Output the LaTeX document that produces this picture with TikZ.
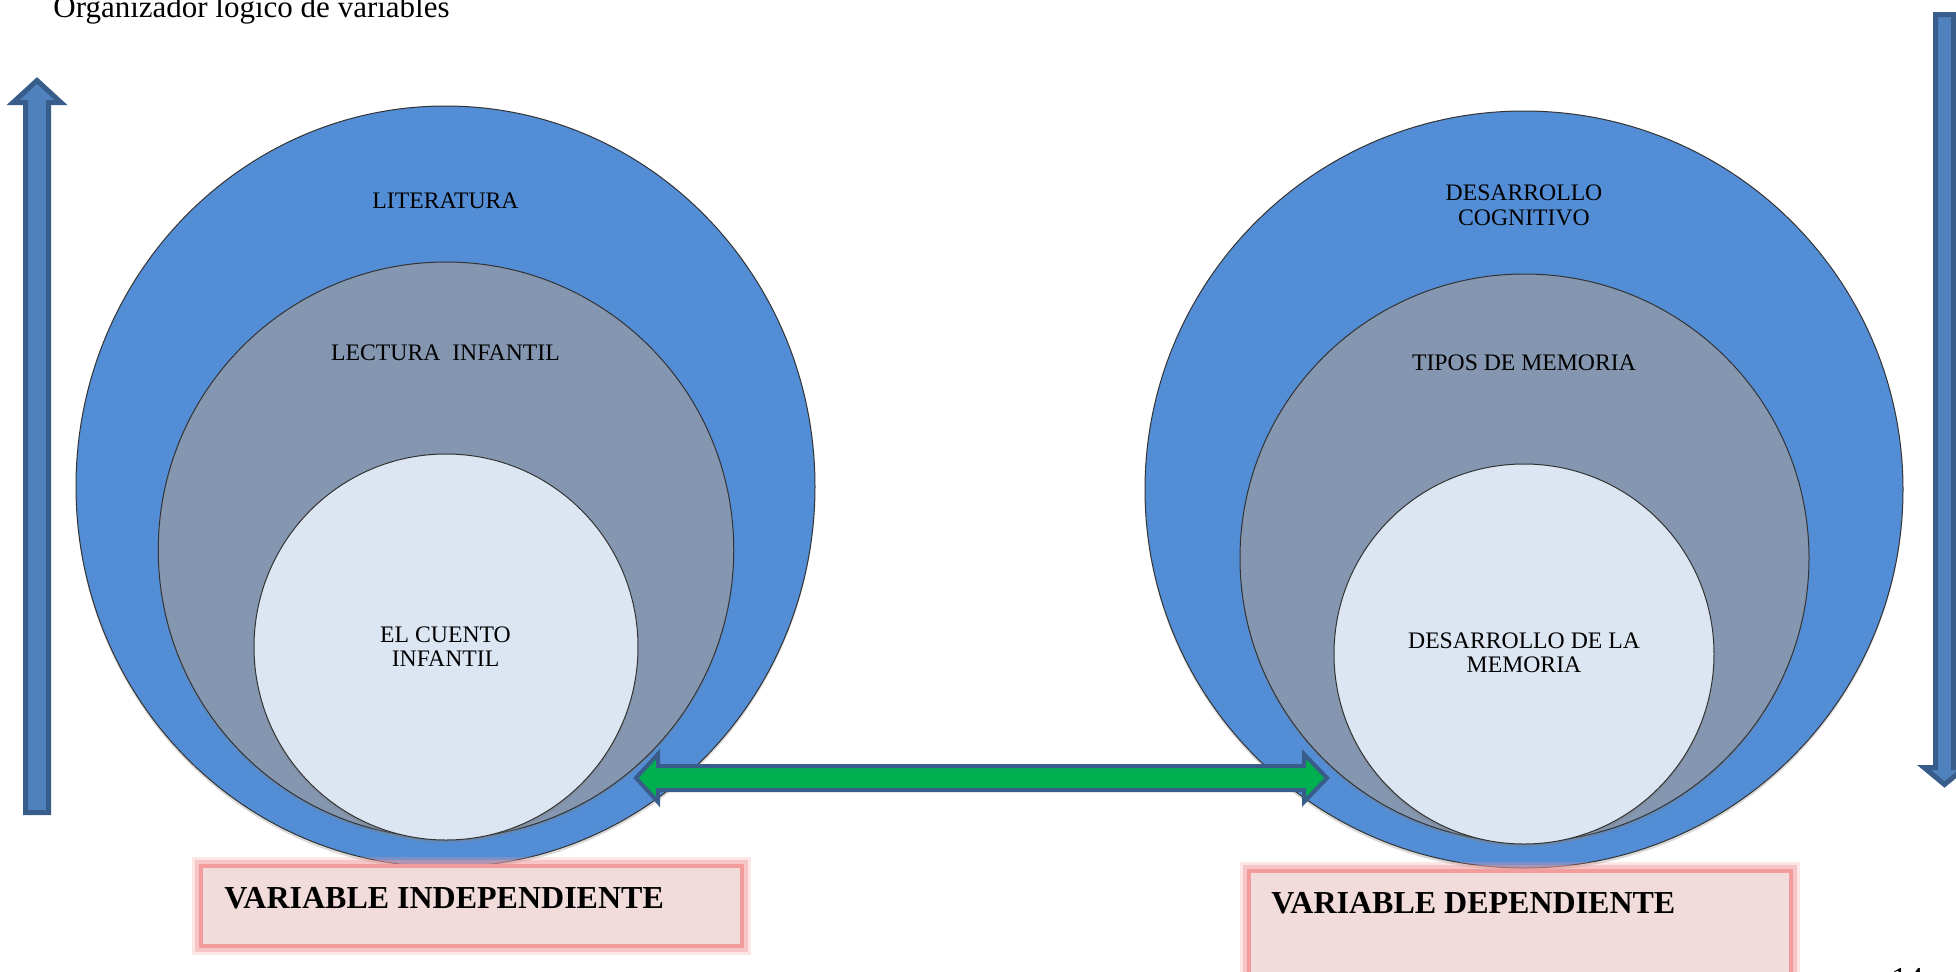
\documentclass[tikz,border=0pt]{standalone}
\usepackage{fontspec}
\setmainfont{Liberation Serif}
\usetikzlibrary{shapes.geometric,shadows,calc}
\definecolor{bigblue}{HTML}{538DD5}
\definecolor{midgray}{HTML}{8496B0}
\definecolor{paleblue}{HTML}{DCE6F2}
\definecolor{arrowfill}{HTML}{4F81BD}
\definecolor{arrowline}{HTML}{385D8A}
\definecolor{dblgreen}{HTML}{00B050}
\definecolor{boxfill}{HTML}{F2DCDB}
\definecolor{glowpink}{HTML}{F29C9C}
\begin{document}
\begin{tikzpicture}[x=0.5pt,y=-0.5pt,
  ring/.style={ellipse, draw=black!80, line width=0.5pt, inner sep=0pt,
    drop shadow={shadow xshift=0pt, shadow yshift=-1.5pt, opacity=0.3}},
  lbl/.style={font=\fontsize{11.85}{12.25}\selectfont, align=center, inner sep=0pt, text=black},
  blockarrow/.style={fill=arrowfill, draw=arrowline, line width=2.5pt, line join=miter},
  greenarrow/.style={fill=dblgreen, draw=arrowline, line width=2pt, line join=miter},
  glowbox/.style={rectangle, inner sep=0pt, fill=boxfill, draw=glowpink, line width=2pt,
    preaction={draw=glowpink, line width=9pt, draw opacity=0.25},
    preaction={draw=glowpink, line width=6pt, draw opacity=0.45}},
  boxtext/.style={anchor=base west, inner sep=0pt, font=\fontsize{16}{18}\selectfont\bfseries}
]
\useasboundingbox (0,0) rectangle (1956,971);

% title
\node[anchor=base west, inner sep=0pt, font=\fontsize{15.5}{18}\selectfont] (title) at (53,17.5) {Organizador lógico de variables};

% vertical block arrows
\draw[blockarrow] (25.5,812.5) -- (25.5,102.5) -- (13,102.5) -- (37,80.5) -- (61,102.5) -- (48.5,102.5) -- (48.5,812.5) -- cycle;
\draw[blockarrow] (1935.5,14.5) -- (1935.5,767.5) -- (1924,767.5) -- (1944.5,784.5) -- (1965,767.5) -- (1953.5,767.5) -- (1953.5,14.5) -- cycle;

% left circles
\node[ring, fill=bigblue, minimum width=369.5pt, minimum height=380.5pt] (lit) at (445.5,486.5) {};
\node[ring, fill=midgray, minimum width=287.75pt, minimum height=288pt] (lec) at (446,550) {};
\node[ring, fill=paleblue, minimum width=192pt, minimum height=193pt] (cue) at (446,647) {};

% right circles
\node[ring, fill=bigblue, minimum width=379pt, minimum height=378.5pt] (cog) at (1524,489.5) {};
\node[ring, fill=midgray, minimum width=284.5pt, minimum height=284pt] (tip) at (1524.5,558) {};
\node[ring, fill=paleblue, minimum width=190pt, minimum height=190pt] (mem) at (1524,654) {};

% green double arrow
\coordinate (gl) at (636,778);
\coordinate (gr) at (1327,778);
\draw[greenarrow] (gl) -- ($(gl)+(22,-24)$) -- ($(gl)+(22,-12)$) -- ($(gr)+(-23,-12)$) -- ($(gr)+(-23,-24)$)
  -- (gr) -- ($(gr)+(-23,24)$) -- ($(gr)+(-23,12)$) -- ($(gl)+(22,12)$) -- ($(gl)+(22,24)$) -- cycle;

% boxes
\node[glowbox, minimum width=270.5pt, minimum height=40pt] (vibox) at (471.5,906) {};
\node[glowbox, minimum width=271pt, minimum height=69.5pt] (vdbox) at (1520,940.5) {};
\node[boxtext] (vitext) at (224,908) {VARIABLE INDEPENDIENTE};
\node[boxtext] (vdtext) at (1271,913) {VARIABLE DEPENDIENTE};

% labels
\node[lbl] (litl) at (445.5,201) {LITERATURA};
\node[lbl] (lecl) at (445.5,353) {LECTURA\ \ INFANTIL};
\node[lbl] (cuel) at (445.5,646.5) {EL CUENTO\\INFANTIL};
\node[lbl] (cogl) at (1524,205.5) {DESARROLLO\\COGNITIVO};
\node[lbl] (tipl) at (1524,362.7) {TIPOS DE MEMORIA};
\node[lbl] (meml) at (1524,653) {DESARROLLO DE LA\\MEMORIA};

% page number (mostly cut off)
\node[anchor=base west, inner sep=0pt, font=\fontsize{16}{18}\selectfont] (pg) at (1891,989) {14};
\end{tikzpicture}
\end{document}
